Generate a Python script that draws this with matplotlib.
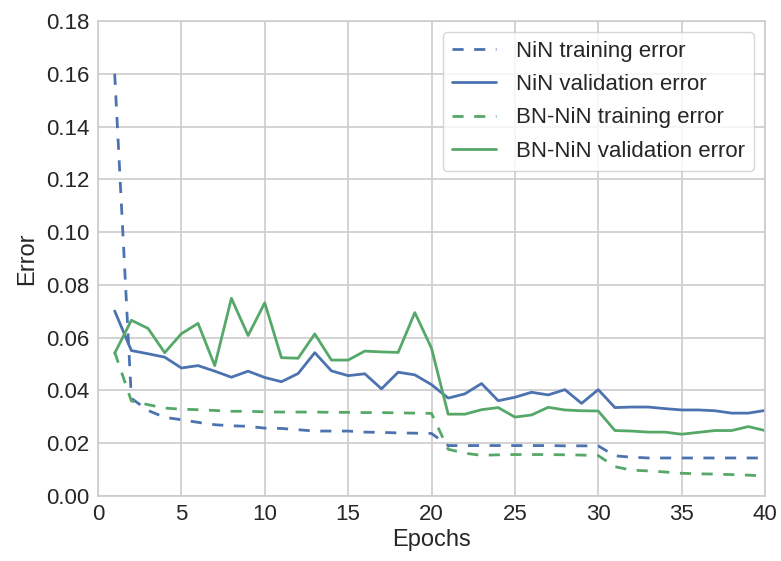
import matplotlib
matplotlib.use("Agg")
import matplotlib.pyplot as plt
import numpy as np
import seaborn as sns

epochs = np.arange(1, 41)

nin_train = [0.160, 0.037, 0.0324, 0.0298, 0.0289, 0.0279, 0.0270, 0.0266, 0.0264, 0.0257,
             0.0256, 0.0251, 0.0246, 0.0246, 0.0246, 0.0242, 0.0241, 0.0239, 0.0238, 0.0237,
             0.0191, 0.0191, 0.0191, 0.0191, 0.0191, 0.0191, 0.0191, 0.0190, 0.0190, 0.0190,
             0.0152, 0.0147, 0.0144, 0.0144, 0.0144, 0.0144, 0.0144, 0.0144, 0.0144, 0.0144]
nin_val = [0.0701, 0.0551, 0.0539, 0.0526, 0.0485, 0.0494, 0.0473, 0.0450, 0.0473, 0.0449,
           0.0433, 0.0464, 0.0543, 0.0474, 0.0456, 0.0463, 0.0406, 0.0469, 0.0459, 0.0422,
           0.0371, 0.0387, 0.0426, 0.0361, 0.0374, 0.0393, 0.0383, 0.0403, 0.0351, 0.0403,
           0.0335, 0.0337, 0.0337, 0.0331, 0.0326, 0.0326, 0.0323, 0.0314, 0.0314, 0.0324]
bn_train = [0.0545, 0.0360, 0.0346, 0.0333, 0.0329, 0.0327, 0.0324, 0.0321, 0.0321, 0.0319,
            0.0318, 0.0318, 0.0318, 0.0317, 0.0317, 0.0316, 0.0316, 0.0315, 0.0314, 0.0313,
            0.0177, 0.0162, 0.0154, 0.0156, 0.0157, 0.0157, 0.0157, 0.0156, 0.0155, 0.0153,
            0.0111, 0.0098, 0.0095, 0.0091, 0.0086, 0.0084, 0.0083, 0.0081, 0.0079, 0.0076]
bn_val = [0.0541, 0.0666, 0.0635, 0.0543, 0.0615, 0.0654, 0.0494, 0.0749, 0.0608, 0.0732,
          0.0524, 0.0522, 0.0614, 0.0515, 0.0515, 0.0549, 0.0546, 0.0544, 0.0695, 0.0560,
          0.0310, 0.0310, 0.0327, 0.0335, 0.0299, 0.0307, 0.0336, 0.0326, 0.0323, 0.0322,
          0.0248, 0.0246, 0.0242, 0.0242, 0.0234, 0.0241, 0.0248, 0.0248, 0.0263, 0.0248]

sns.set_style("whitegrid", {"axes.edgecolor": ".8", "grid.color": ".8"})
plt.rcParams["font.family"] = ["Liberation Sans", "DejaVu Sans"]
plt.rcParams["text.color"] = ".15"
plt.rcParams["axes.labelcolor"] = ".15"
plt.rcParams["xtick.color"] = ".15"
plt.rcParams["ytick.color"] = ".15"

blue = "#4C72B0"
green = "#55A868"
lw = 2.0
dash = (4.0, 3.8)

fig = plt.figure(figsize=(7.81, 5.61), dpi=100)
ax = fig.add_axes([0.1255, 0.1159, 0.854, 0.8467])

ax.plot(epochs, nin_train, color=blue, lw=lw, dashes=dash, label="NiN training error")
ax.plot(epochs, nin_val, color=blue, lw=lw, label="NiN validation error")
ax.plot(epochs, bn_train, color=green, lw=lw, dashes=dash, label="BN-NiN training error")
ax.plot(epochs, bn_val, color=green, lw=lw, label="BN-NiN validation error")

ax.set_xlim(0, 40)
ax.set_ylim(0, 0.18)
ax.set_xticks(np.arange(0, 41, 5))
ax.set_yticks(np.arange(0, 0.181, 0.02))
ax.set_yticklabels(["%.2f" % v for v in np.arange(0, 0.181, 0.02)])
ax.tick_params(labelsize=16, length=0, pad=6)
ax.grid(True, lw=1.2)
for s in ax.spines.values():
    s.set_linewidth(1.2)

ax.set_xlabel("Epochs", fontsize=17, labelpad=3)
ax.set_ylabel("Error", fontsize=17, labelpad=6)

leg = ax.legend(loc="upper right", fontsize=16, frameon=True, handlelength=2.0,
                borderpad=0.4, labelspacing=0.55, handletextpad=0.9)
leg.get_frame().set_edgecolor(".8")
leg.get_frame().set_facecolor("white")

fig.savefig("out.png", dpi=100)
